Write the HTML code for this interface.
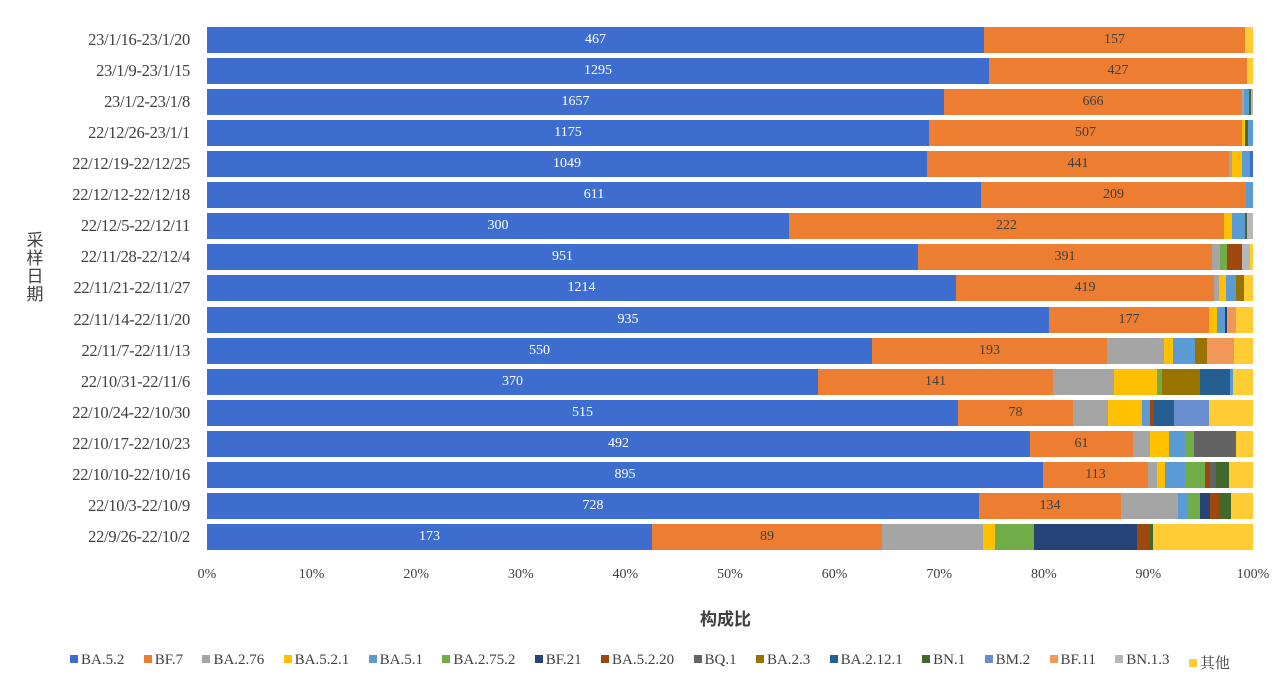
<!DOCTYPE html>
<html><head><meta charset="utf-8"><style>
body{margin:0;width:1282px;height:692px;background:#fff;position:relative;overflow:hidden;font-family:"Liberation Serif","Noto Serif CJK SC",serif;color:#404040}
.s{position:absolute;height:26px}
.l{position:absolute;font-size:14px;line-height:26px;text-align:center}
.y{position:absolute;right:1092px;font-size:16.5px;line-height:26px;white-space:nowrap;letter-spacing:-0.3px}
.t{position:absolute;top:567px;font-size:14px;width:60px;text-align:center}
#leg{position:absolute;top:652px;left:70px;width:1160px;display:flex;justify-content:space-between;font-size:15px;color:#404040}
#leg span i{display:inline-block;width:8px;height:8px;margin-right:3px;vertical-align:1px}
</style></head><body>
<div style="position:absolute;left:25px;top:232px;width:20px;font-size:17px;line-height:18px;font-family:'Liberation Sans','Noto Sans CJK SC',sans-serif;text-align:center">采<br>样<br>日<br>期</div>
<div style="position:absolute;left:700px;top:605px;font-size:17px;font-weight:bold;font-family:'Liberation Sans','Noto Sans CJK SC',sans-serif">构成比</div>
<div id="leg"></div>
<script>
var C={b:"#3D6ECF",o:"#ED7D31",g:"#A5A5A5",y:"#FFC000",lb:"#5B9BD5",gr:"#70AD47",n:"#264478",br:"#9E480E",dg:"#636363",ol:"#997300",b2:"#255E91",dk:"#43682B",l2:"#698ED0",sa:"#F1975A",lg:"#B7B7B7",y2:"#FFCD33"};
var R=[
["23/1/16-23/1/20",467,157,[[984,"b"],[1245,"o"],[1253,"y2"]]],
["23/1/9-23/1/15",1295,427,[[989,"b"],[1247,"o"],[1253,"y2"]]],
["23/1/2-23/1/8",1657,666,[[944,"b"],[1242,"o"],[1244,"g"],[1249,"lb"],[1251,"dk"],[1253,"lg"]]],
["22/12/26-23/1/1",1175,507,[[929,"b"],[1242,"o"],[1245,"y"],[1248,"dk"],[1253,"lb"]]],
["22/12/19-22/12/25",1049,441,[[927,"b"],[1229,"o"],[1232,"g"],[1242,"y"],[1250,"lb"],[1253,"b"]]],
["22/12/12-22/12/18",611,209,[[981,"b"],[1246,"o"],[1253,"lb"]]],
["22/12/5-22/12/11",300,222,[[789,"b"],[1224,"o"],[1232,"y"],[1245,"lb"],[1247,"dk"],[1253,"lg"]]],
["22/11/28-22/12/4",951,391,[[918,"b"],[1212,"o"],[1220,"g"],[1227,"gr"],[1242,"br"],[1250,"lg"],[1253,"y2"]]],
["22/11/21-22/11/27",1214,419,[[956,"b"],[1214,"o"],[1219,"g"],[1226,"y"],[1236,"lb"],[1244,"ol"],[1253,"y2"]]],
["22/11/14-22/11/20",935,177,[[1049,"b"],[1209,"o"],[1217,"y"],[1225,"lb"],[1227,"n"],[1236,"sa"],[1253,"y2"]]],
["22/11/7-22/11/13",550,193,[[872,"b"],[1107,"o"],[1164,"g"],[1173,"y"],[1195,"lb"],[1207,"ol"],[1234,"sa"],[1253,"y2"]]],
["22/10/31-22/11/6",370,141,[[818,"b"],[1053,"o"],[1114,"g"],[1157,"y"],[1162,"gr"],[1200,"ol"],[1230,"b2"],[1233,"lb"],[1253,"y2"]]],
["22/10/24-22/10/30",515,78,[[958,"b"],[1073,"o"],[1108,"g"],[1142,"y"],[1150,"lb"],[1154,"br"],[1174,"b2"],[1209,"l2"],[1253,"y2"]]],
["22/10/17-22/10/23",492,61,[[1030,"b"],[1133,"o"],[1150,"g"],[1169,"y"],[1186,"lb"],[1194,"gr"],[1236,"dg"],[1253,"y2"]]],
["22/10/10-22/10/16",895,113,[[1043,"b"],[1148,"o"],[1157,"g"],[1165,"y"],[1186,"lb"],[1205,"gr"],[1210,"br"],[1216,"dg"],[1229,"dk"],[1253,"y2"]]],
["22/10/3-22/10/9",728,134,[[979,"b"],[1121,"o"],[1178,"g"],[1187,"lb"],[1200,"gr"],[1210,"n"],[1219,"br"],[1231,"dk"],[1253,"y2"]]],
["22/9/26-22/10/2",173,89,[[652,"b"],[882,"o"],[983,"g"],[995,"y"],[1034,"gr"],[1137,"n"],[1150,"br"],[1153,"dk"],[1253,"y2"]]]
];
var h="";
R.forEach(function(r,i){var top=Math.round(27+i*31.06),x=207;
h+='<div class="y" style="top:'+top+'px">'+r[0]+'</div>';
r[3].forEach(function(s,k){h+='<div class="s" style="top:'+top+'px;left:'+x+'px;width:'+(s[0]-x)+'px;background:'+C[s[1]]+'"></div>';
if(k<2)h+='<div class="l" style="top:'+top+'px;left:'+x+'px;width:'+(s[0]-x)+'px;color:'+(k==0?'#fff':'#404040')+'">'+r[k+1]+'</div>';x=s[0];});});
for(var i=0;i<=10;i++)h+='<div class="t" style="left:'+(207+i*104.6-30)+'px">'+(i*10)+'%</div>';
document.body.insertAdjacentHTML("beforeend",h);
var L=[["BA.5.2","b"],["BF.7","o"],["BA.2.76","g"],["BA.5.2.1","y"],["BA.5.1","lb"],["BA.2.75.2","gr"],["BF.21","n"],["BA.5.2.20","br"],["BQ.1","dg"],["BA.2.3","ol"],["BA.2.12.1","b2"],["BN.1","dk"],["BM.2","l2"],["BF.11","sa"],["BN.1.3","lg"],["其他","y2"]];
document.getElementById("leg").innerHTML=L.map(function(l){return '<span><i style="background:'+C[l[1]]+'"></i>'+l[0]+'</span>'}).join("");
</script>
</body></html>
